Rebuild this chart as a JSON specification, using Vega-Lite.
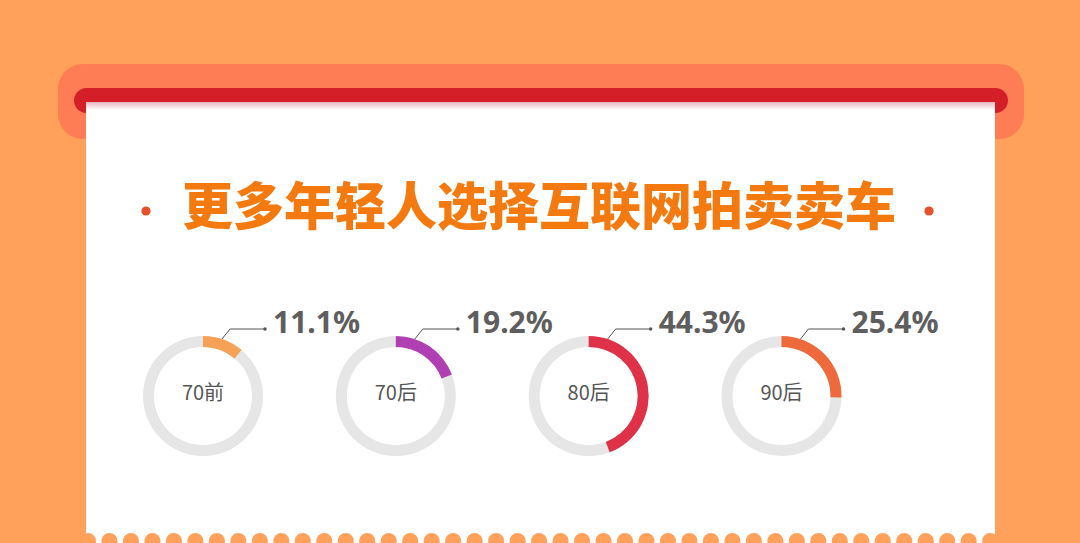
{
  "$schema": "https://vega.github.io/schema/vega-lite/v6.json",
  "width": 909,
  "height": 441,
  "autosize": {"type": "none"},
  "padding": {"left": 86, "top": 102, "right": 85, "bottom": 0},
  "background": "#FFA15B",
  "config": {"view": {"stroke": null}},
  "data": {"values": [
    {"group": "70前", "share": 0.111},
    {"group": "70后", "share": 0.192},
    {"group": "80后", "share": 0.443},
    {"group": "90后", "share": 0.254}
  ]},
  "layer": [
    {
      "data": {"values": [{}]},
      "mark": {"type": "rect", "x": -28, "x2": {"expr": "width+29"}, "y": -38, "y2": 37, "cornerRadius": 25, "color": "#FF7D55"},
      "encoding": {}
    },
    {
      "data": {"values": [{}]},
      "mark": {"type": "rect", "x": -12, "x2": {"expr": "width+13"}, "y": -14, "y2": 11, "cornerRadius": 12.5, "color": "#D41F29"},
      "encoding": {}
    },
    {
      "data": {"values": [{}]},
      "mark": {"type": "rect", "x": 0, "x2": {"expr": "width"}, "y": 0, "y2": {"expr": "height"}, "color": "#FFFFFF"},
      "encoding": {}
    },
    {
      "data": {"values": [{}]},
      "mark": {"type": "rect", "x": 0, "x2": {"expr": "width"}, "y": 0, "y2": 8,
        "fill": {"gradient": "linear", "x1": 0, "y1": 0, "x2": 0, "y2": 1,
          "stops": [{"offset": 0, "color": "#E8B5C0"}, {"offset": 1, "color": "#FFFFFF"}]}},
      "encoding": {}
    },
    {
      "data": {"values": [{}]},
      "mark": {"type": "rule", "strokeWidth": 16, "strokeDash": [0, 21.48], "strokeCap": "round", "color": "#FFA15B"},
      "encoding": {"x": {"value": 2}, "x2": {"value": "width"}, "y": {"value": 439}}
    },
    {
      "data": {"values": [{}]},
      "mark": {"type": "circle", "x": 60, "y": 109, "size": 85, "color": "#E8502A", "opacity": 1},
      "encoding": {}
    },
    {
      "data": {"values": [{}]},
      "mark": {"type": "circle", "x": 843, "y": 109, "size": 85, "color": "#E8502A", "opacity": 1},
      "encoding": {}
    },
    {
      "data": {"values": [{}]},
      "mark": {"type": "text", "x": 453, "y": 108, "align": "center", "baseline": "middle",
        "font": "Noto Sans CJK SC", "fontSize": 51, "fontWeight": 900, "color": "#F47A10"},
      "encoding": {"text": {"value": "更多年轻人选择互联网拍卖卖车"}}
    },
    {
      "mark": {"type": "arc", "innerRadius": 49, "outerRadius": 60, "theta": 0, "theta2": 6.2832, "color": "#E6E6E6"},
      "encoding": {
        "x": {"field": "group", "type": "nominal", "axis": null, "scale": {"type": "point", "padding": 0.857, "align": 0.354}},
        "y": {"value": 294}
      }
    },
    {
      "mark": {"type": "arc", "innerRadius": 49, "outerRadius": 60},
      "encoding": {
        "x": {"field": "group", "type": "nominal", "axis": null},
        "y": {"value": 294},
        "theta": {"field": "share", "type": "quantitative", "stack": null, "scale": {"domain": [0, 1]}},
        "color": {"field": "group", "type": "nominal", "legend": null,
          "scale": {"domain": ["70前", "70后", "80后", "90后"], "range": ["#F7A156", "#AF3FB3", "#DF3249", "#EE6A3C"]}}
      }
    },
    {
      "mark": {"type": "rule", "xOffset": 19, "x2Offset": 27, "color": "#555555", "strokeWidth": 1},
      "encoding": {
        "x": {"field": "group", "type": "nominal", "axis": null},
        "x2": {"field": "group"},
        "y": {"value": 237},
        "y2": {"value": 227}
      }
    },
    {
      "mark": {"type": "rule", "xOffset": 27, "x2Offset": 61, "color": "#555555", "strokeWidth": 1},
      "encoding": {
        "x": {"field": "group", "type": "nominal", "axis": null},
        "x2": {"field": "group"},
        "y": {"value": 227}
      }
    },
    {
      "mark": {"type": "circle", "xOffset": 62, "size": 12, "color": "#555555", "opacity": 1},
      "encoding": {
        "x": {"field": "group", "type": "nominal", "axis": null},
        "y": {"value": 227}
      }
    },
    {
      "mark": {"type": "text", "xOffset": 70, "align": "left", "baseline": "alphabetic",
        "font": "Noto Sans", "fontSize": 30, "fontWeight": "bold", "letterSpacing": 1, "color": "#5E5E5E"},
      "encoding": {
        "x": {"field": "group", "type": "nominal", "axis": null},
        "y": {"value": 231},
        "text": {"field": "share", "type": "quantitative", "format": ".1%"}
      }
    },
    {
      "mark": {"type": "text", "align": "center", "baseline": "middle",
        "font": "Noto Sans CJK SC", "fontSize": 20, "color": "#555555"},
      "encoding": {
        "x": {"field": "group", "type": "nominal", "axis": null},
        "y": {"value": 292},
        "text": {"field": "group", "type": "nominal"}
      }
    }
  ]
}
